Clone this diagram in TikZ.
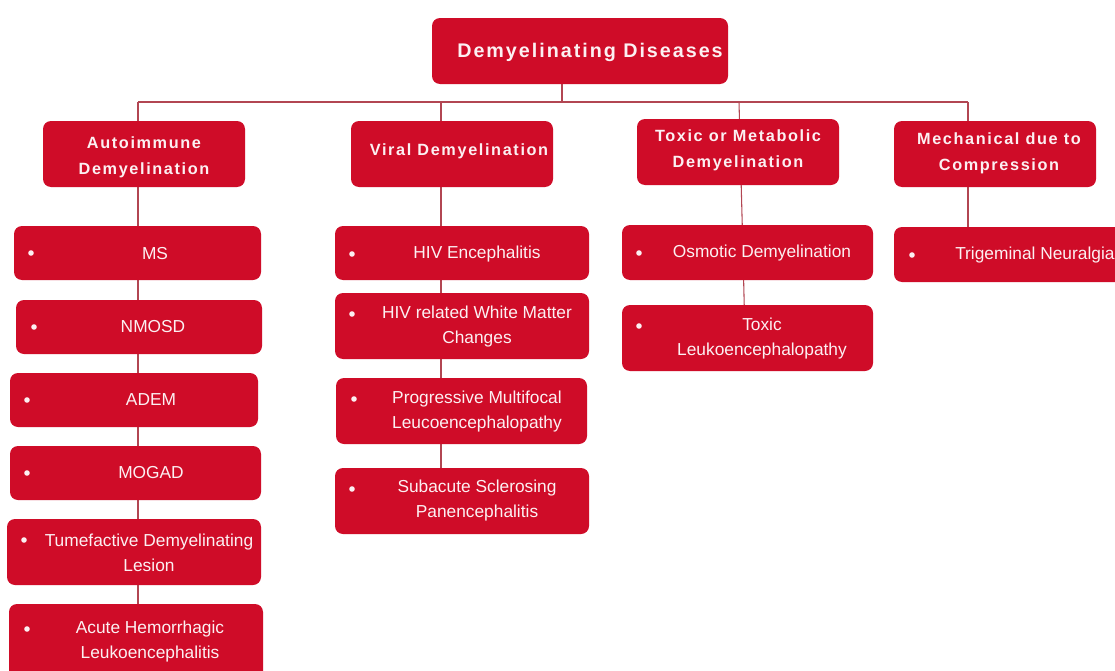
\documentclass[tikz,border=0pt]{standalone}
\usepackage{fontspec}
\setmainfont{Liberation Sans}
\newfontfamily\hdfont[LetterSpace=10]{Liberation Sans}
\usetikzlibrary{backgrounds}
\definecolor{boxred}{RGB}{207,12,40}
\definecolor{linered}{RGB}{178,70,82}
\definecolor{txt}{RGB}{252,240,242}
\tikzset{
  sz/.style 2 args={minimum width=#1*0.75pt, minimum height=#2*0.75pt},
  box/.style={fill=boxred, rounded corners=6pt, inner sep=0pt, draw=none, shape=rectangle},
  hdtext/.style={text=txt, font=\hdfont\bfseries\fontsize{12.2}{19.5}\selectfont, align=center, inner sep=0pt},
  roottext/.style={text=txt, font=\hdfont\bfseries\fontsize{14.8}{18}\selectfont, align=center, inner sep=0pt},
  itemtext/.style={text=txt, font=\fontsize{13}{18.75}\selectfont, align=center, inner sep=0pt},
  dot/.style={circle, fill=txt, inner sep=0pt, minimum size=4.2pt},
  conn/.style={draw=linered, line width=0.8pt},
}
\begin{document}
\begin{tikzpicture}[x=0.75pt, y=-0.75pt]
\useasboundingbox (0,0) rectangle (1115,671);

% root
\node[box, sz={296}{66}] (root) at (580,51) {};
\node[roottext] (rootT) at (590,52) {Demyelinating Diseases};

% categories
\node[box, sz={202}{66}] (cat1) at (144,154) {};
\node[hdtext] (cat1T) at (144,157) {Autoimmune\\Demyelination};
\node[box, sz={202}{66}] (cat2) at (452,154) {};
\node[hdtext] (cat2T) at (459,151) {Viral Demyelination};
\node[box, sz={202}{66}] (cat3) at (738,152) {};
\node[hdtext] (cat3T) at (738,150) {Toxic or Metabolic\\Demyelination};
\node[box, sz={202}{66}] (cat4) at (995,154) {};
\node[hdtext] (cat4T) at (999,153) {Mechanical due to\\Compression};

% column 1
\node[box, sz={247}{54}] (ms) at (137.5,253) {};
\node[itemtext] (msT) at (155,254) {MS};
\node[dot] (msB) at (31,253) {};
\node[box, sz={246}{54}] (nmo) at (139,327) {};
\node[itemtext] (nmoT) at (153,327) {NMOSD};
\node[dot] (nmoB) at (34,327) {};
\node[box, sz={248}{54}] (adem) at (134,400) {};
\node[itemtext] (ademT) at (151,400) {ADEM};
\node[dot] (ademB) at (27,400) {};
\node[box, sz={251}{54}] (mog) at (135.5,473) {};
\node[itemtext] (mogT) at (151,473) {MOGAD};
\node[dot] (mogB) at (27,473) {};
\node[box, sz={254}{66}] (tdl) at (134,552) {};
\node[itemtext] (tdlT) at (149,552.5) {Tumefactive Demyelinating\\Lesion};
\node[dot] (tdlB) at (24,540) {};
\node[box, sz={254}{80}] (ahl) at (136,644) {};
\node[itemtext] (ahlT) at (150,641.5) {Acute Hemorrhagic\\Leukoencephalitis};
\node[dot] (ahlB) at (27,629) {};

% column 2
\node[box, sz={254}{54}] (hive) at (462,253) {};
\node[itemtext] (hiveT) at (477,254) {HIV Encephalitis};
\node[dot] (hiveB) at (352,254) {};
\node[box, sz={254}{66}] (hivw) at (462,326) {};
\node[itemtext] (hivwT) at (477,326.5) {HIV related White Matter\\Changes};
\node[dot] (hivwB) at (352,314) {};
\node[box, sz={251}{66}] (pml) at (461.5,411) {};
\node[itemtext] (pmlT) at (477,411.5) {Progressive Multifocal\\Leucoencephalopathy};
\node[dot] (pmlB) at (354,399) {};
\node[box, sz={254}{66}] (ssp) at (462,501) {};
\node[itemtext] (sspT) at (477,501) {Subacute Sclerosing\\Panencephalitis};
\node[dot] (sspB) at (352,489) {};

% column 3
\node[box, sz={251}{55}] (osm) at (747.5,252.5) {};
\node[itemtext] (osmT) at (762,253) {Osmotic Demyelination};
\node[dot] (osmB) at (639,253) {};
\node[box, sz={251}{66}] (tox) at (747.5,338) {};
\node[itemtext] (toxT) at (762,338.5) {Toxic\\Leukoencephalopathy};
\node[dot] (toxB) at (639,326) {};

% column 4
\node[box, sz={240}{55}] (tn) at (1014,254.5) {};
\node[itemtext, anchor=west] (tnT) at (955,255) {Trigeminal Neuralgia};
\node[dot] (tnB) at (912,255) {};

% junction coordinates
\coordinate (j0) at (562,102);
\coordinate (b1) at (138,102);
\coordinate (b2) at (441,102);
\coordinate (b3) at (739,102);
\coordinate (b4) at (968,102);
\coordinate (c3a) at (743,253);
\coordinate (c3b) at (745,338);

\begin{scope}[on background layer]
\fill[white] (0,0) rectangle (1115,671);
\draw[conn] (root.south -| j0) -- (j0);
\draw[conn] (b1) -- (b4);
\draw[conn] (b1) -- (b1 |- ahl.center);
\draw[conn] (b2) -- (b2 |- ssp.center);
\draw[conn] (b3) -- (c3a) -- (c3b);
\draw[conn] (b4) -- (b4 |- tn.center);
\end{scope}
\end{tikzpicture}
\end{document}
